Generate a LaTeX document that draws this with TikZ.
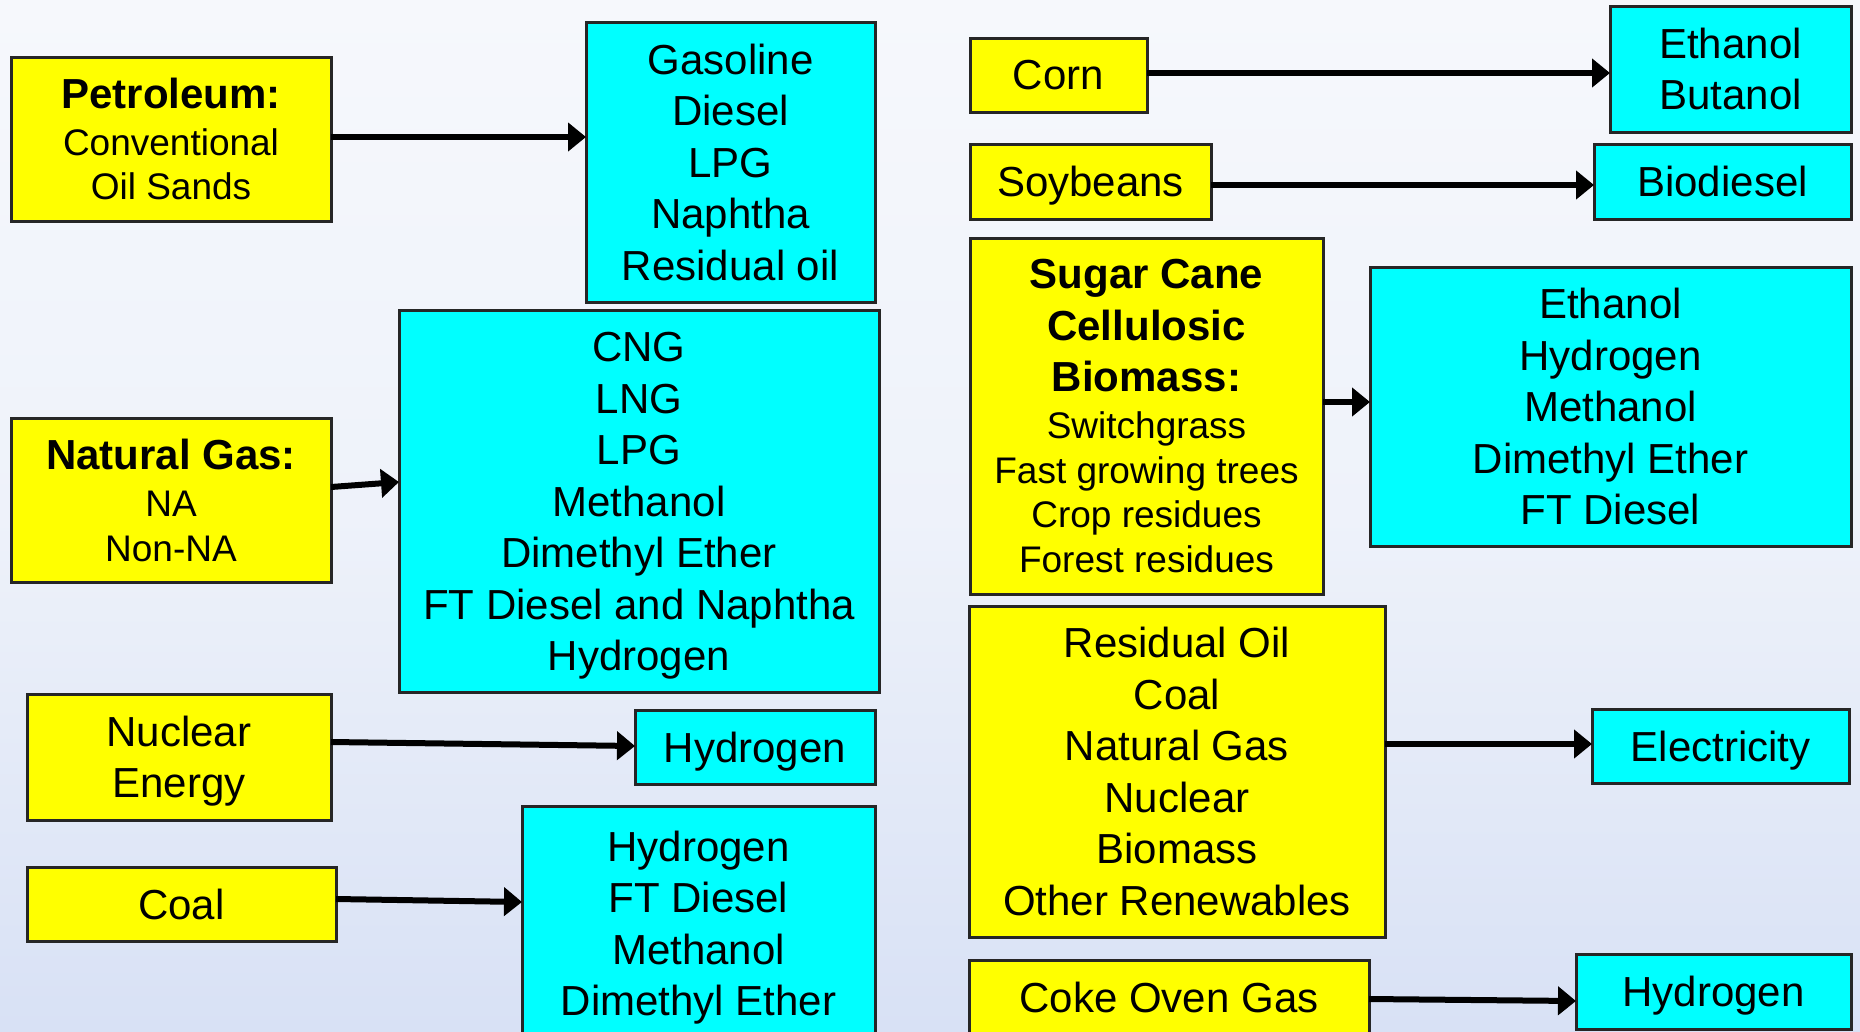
\documentclass[tikz,border=0pt]{standalone}
\usepackage{fontspec}
\setmainfont{Liberation Sans}
\usetikzlibrary{arrows.meta,calc}
\definecolor{bgtop}{HTML}{F6F8FC}
\definecolor{bgmid}{HTML}{EEF2FA}
\definecolor{bgbot}{HTML}{D8E1F5}
\definecolor{boxY}{HTML}{FFFF00}
\definecolor{boxC}{HTML}{00FFFF}
\newcommand\fbig{\fontsize{42}{51.5}\selectfont}
\newcommand\fsml{\fontsize{37}{44.5}\selectfont}
\newcommand\fbb{\fontsize{42}{44.5}\selectfont\bfseries}
\newcommand\dsc{\rule{0pt}{0.926em}}
\begin{document}
\begin{tikzpicture}[x=1pt,y=-1pt,
  box/.style={draw=black!85, line width=3pt, inner sep=0pt, outer sep=0pt, align=center, font=\fbig},
  src/.style={box, fill=boxY},
  dst/.style={box, fill=boxC},
  mixed/.style={font=\fsml},
  arr/.style={line width=6pt, -{Triangle[length=18pt,width=28pt]}},
]
\useasboundingbox (0,0) rectangle (1860,1031);
\clip (0,0) rectangle (1860,1031);
\shade[top color=bgtop, bottom color=bgbot, middle color=bgmid] (0,0) rectangle (1860,1031);

% left column sources
\node[src, mixed, minimum width=320, minimum height=164] (pet) at (171,139)
  {\fbb Petroleum:\\[2.5pt]Conventional\\Oil Sands};
\node[src, mixed, minimum width=320, minimum height=164] (ng) at (171,500)
  {\fbb Natural Gas:\\[3pt]NA\\Non-NA};
\node[src, minimum width=304, minimum height=126] (nuc) at (179,757)
  {\dsc Nuclear\\Energy};
\node[src, minimum width=309, minimum height=74] (coal) at (181.5,904)
  {Coal};

% left column products
\node[dst, minimum width=289, minimum height=280] (gas) at (730.5,162)
  {Gasoline\\Diesel\\LPG\\Naphtha\\Residual oil};
\node[dst, minimum width=480, minimum height=382] (cng) at (639,501)
  {\dsc CNG\\LNG\\LPG\\Methanol\\Dimethyl Ether\\FT Diesel and Naphtha\\Hydrogen};
\node[dst, minimum width=240, minimum height=74] (hyda) at (755,747)
  {\dsc Hydrogen};
\node[dst, minimum width=353, minimum height=235] (cout) at (698.5,923.5)
  {\dsc Hydrogen\\FT Diesel\\Methanol\\Dimethyl Ether};

% right column sources
\node[src, minimum width=177, minimum height=74] (corn) at (1058.5,75)
  {Corn};
\node[src, minimum width=241, minimum height=75] (soy) at (1090.5,181.5)
  {\dsc Soybeans};
\node[src, mixed, minimum width=353, minimum height=356] (sug) at (1146.5,416)
  {\fbb Sugar Cane\\[7pt]\fbb Cellulosic\\[7pt]\fbb Biomass:\\[2.5pt]Switchgrass\\Fast growing trees\\Crop residues\\Forest residues};
\node[src, minimum width=416, minimum height=331] (res) at (1177,771.5)
  {Residual Oil\\Coal\\Natural Gas\\Nuclear\\Biomass\\Other Renewables};
\node[src, minimum width=400, minimum height=74] (coke) at (1169,997)
  {Coke Oven Gas};

% right column products
\node[dst, minimum width=241, minimum height=126] (eb) at (1730.5,69)
  {Ethanol\\Butanol};
\node[dst, minimum width=257, minimum height=75] (bio) at (1722.5,181.5)
  {Biodiesel};
\node[dst, minimum width=481, minimum height=279] (eth) at (1610.5,406.5)
  {Ethanol\\Hydrogen\\Methanol\\Dimethyl Ether\\FT Diesel};
\node[dst, minimum width=257, minimum height=74] (ele) at (1720.5,746)
  {\dsc Electricity};
\node[dst, minimum width=275, minimum height=75] (hydb) at (1713.5,991.5)
  {\dsc Hydrogen};

% connectors
\draw[arr] (pet.east |- 0,137) -- (gas.west |- 0,137);
\draw[arr] (ng.east |- 0,487) -- (cng.west |- 0,482);
\draw[arr] (nuc.east |- 0,742) -- (hyda.west |- 0,746);
\draw[arr] (coal.east |- 0,899) -- (cout.west |- 0,902);
\draw[arr] (corn.east |- 0,73) -- (eb.west |- 0,73);
\draw[arr] (soy.east |- 0,185) -- (bio.west |- 0,185);
\draw[arr] (sug.east |- 0,402) -- (eth.west |- 0,402);
\draw[arr] (res.east |- 0,744) -- (ele.west |- 0,744);
\draw[arr] (coke.east |- 0,999) -- (hydb.west |- 0,1001);
\end{tikzpicture}
\end{document}
